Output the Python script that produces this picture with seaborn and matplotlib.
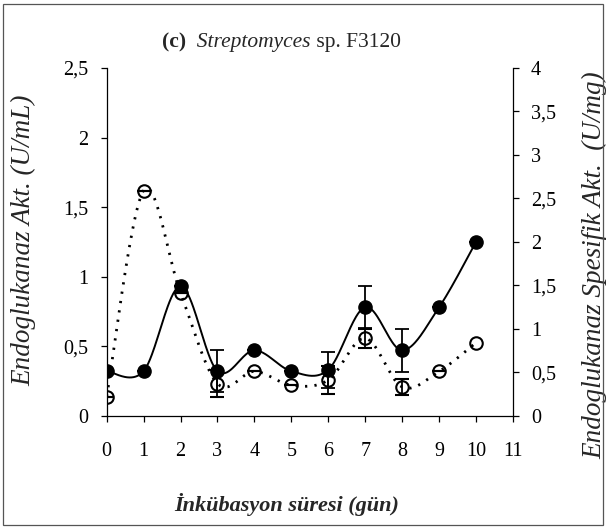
import numpy as np
import pandas as pd
import matplotlib
matplotlib.use("Agg")
import matplotlib.pyplot as plt
from matplotlib.patches import Rectangle
from matplotlib.ticker import FixedLocator, FixedFormatter
import seaborn as sns

# ---- data ----
days = [0, 1, 2, 3, 4, 5, 6, 7, 8, 9, 10]
activity = [0.32, 0.32, 0.93, 0.32, 0.47, 0.32, 0.33, 0.78, 0.47, 0.78, 1.25]      # U/mL (filled)
activity_err = [0, 0, 0, 0.15, 0, 0, 0.13, 0.15, 0.155, 0, 0]
specific = [0.22, 2.59, 1.41, 0.37, 0.51, 0.35, 0.41, 0.89, 0.33, 0.51, 0.84]     # U/mg (open)
specific_err = [0, 0, 0, 0.16, 0, 0, 0.16, 0.11, 0.09, 0, np.nan]

x_ticks = list(range(0, 12))
x_ticklabels = [str(v) for v in x_ticks]
left_ticks = [0, 0.5, 1, 1.5, 2, 2.5]
left_ticklabels = ["0", "0,5", "1", "1,5", "2", "2,5"]
right_ticks = [0, 0.5, 1, 1.5, 2, 2.5, 3, 3.5, 4]
right_ticklabels = ["0", "0,5", "1", "1,5", "2", "2,5", "3", "3,5", "4"]

title_parts = ["(c)", "  Streptomyces", " sp. F3120"]
xlabel = "İnkübasyon süresi (gün)"
ylabel_left = "Endoglukanaz Akt. (U/mL)"
ylabel_right = "Endoglukanaz Spesifik Akt.  (U/mg)"


def smooth(xs, ys, n=40):
    pts = np.column_stack([xs, ys]).astype(float)
    P = np.vstack([pts[0], pts, pts[-1]])
    out = []
    for i in range(len(pts) - 1):
        p0, p1, p2, p3 = P[i], P[i + 1], P[i + 2], P[i + 3]
        c1 = p1 + (p2 - p0) / 6.0
        c2 = p2 - (p3 - p1) / 6.0
        t = np.linspace(0, 1, n, endpoint=False)[:, None]
        b = ((1 - t) ** 3) * p1 + 3 * ((1 - t) ** 2) * t * c1 + 3 * (1 - t) * t ** 2 * c2 + t ** 3 * p2
        out.append(b)
    out.append(pts[-1][None, :])
    arr = np.vstack(out)
    return pd.DataFrame({"x": arr[:, 0], "y": arr[:, 1]})


sns.set_style("ticks")
plt.rcParams["font.family"] = ["Liberation Serif", "DejaVu Serif"]

fig = plt.figure(figsize=(6.06, 5.29), dpi=100)
ax = fig.add_axes([0.176, 0.2142, 0.6705, 0.6573])
ax2 = ax.twinx()

FS = 14.5

# smooth curves
c1 = smooth(days, activity)
sns.lineplot(data=c1, x="x", y="y", ax=ax, sort=False, estimator=None,
             color="black", lw=1.4)
c2 = smooth(days, specific)
sns.lineplot(data=c2, x="x", y="y", ax=ax2, sort=False, estimator=None,
             color="black", lw=2.0, linestyle=(0, (0.8, 2.6)))

# markers + error bars
ax.errorbar(days, activity, yerr=activity_err, fmt="o", ms=9.5, mfc="black",
            mec="black", ecolor="black", capsize=5, elinewidth=1.3, capthick=1.3, zorder=5)
ax2.errorbar(days, specific, yerr=specific_err, fmt="o", ms=9, mfc="none",
             mec="black", mew=1.5, ecolor="black", capsize=5, elinewidth=1.3,
             capthick=1.5, zorder=5)

ax.set_xlim(0, 11)
ax.set_ylim(0, 2.5)
ax2.set_ylim(0, 4)

ax.xaxis.set_major_locator(FixedLocator(x_ticks))
ax.xaxis.set_major_formatter(FixedFormatter(x_ticklabels))
ax.yaxis.set_major_locator(FixedLocator(left_ticks))
ax.yaxis.set_major_formatter(FixedFormatter(left_ticklabels))
ax2.yaxis.set_major_locator(FixedLocator(right_ticks))
ax2.yaxis.set_major_formatter(FixedFormatter(right_ticklabels))

for a in (ax, ax2):
    a.spines["top"].set_visible(False)
    for s in ("left", "right", "bottom"):
        a.spines[s].set_linewidth(0.9)
        a.spines[s].set_color("black")
    a.tick_params(direction="out", length=4, width=0.9, colors="black",
                  labelsize=FS)
ax.spines["right"].set_visible(False)
ax2.spines["left"].set_visible(False)
ax2.spines["bottom"].set_visible(False)
ax.tick_params(axis="y", pad=9)
ax.tick_params(axis="x", pad=15)
ax2.tick_params(axis="y", pad=9)

ax.set_xlabel(xlabel, fontsize=16, fontstyle="italic", fontweight="bold")
ax.xaxis.set_label_coords(0.444, -0.255)
ax.xaxis.label.set_va("center")
ax.set_ylabel(ylabel_left, fontsize=19.5, fontstyle="italic")
ax.yaxis.set_label_coords(-0.203, 0.505)
ax.yaxis.label.set_va("center")
ax2.set_ylabel(ylabel_right, fontsize=19.5, fontstyle="italic")
ax2.yaxis.set_label_coords(1.2, 0.433)
ax2.yaxis.label.set_va("center")
ax2.yaxis.label.set_rotation(90)

# title in mixed styles
t1 = fig.text(162 / 606, 1 - 47 / 529, title_parts[0], fontsize=15.5, fontweight="bold",
              va="baseline", ha="left")
a2 = ax.annotate(title_parts[1], xy=(1, 0), xycoords=t1, va="bottom", ha="left",
                 fontsize=15.5, fontstyle="italic", annotation_clip=False)
a3 = ax.annotate(title_parts[2], xy=(1, 0), xycoords=a2, va="bottom", ha="left",
                 fontsize=15.5, annotation_clip=False)

# outer frame
fig.patches.append(Rectangle((3 / 606, 4 / 529), 600 / 606, 521 / 529,
                             transform=fig.transFigure, fill=False,
                             edgecolor="#555555", lw=0.9))

fig.savefig("out.png", dpi=100)
